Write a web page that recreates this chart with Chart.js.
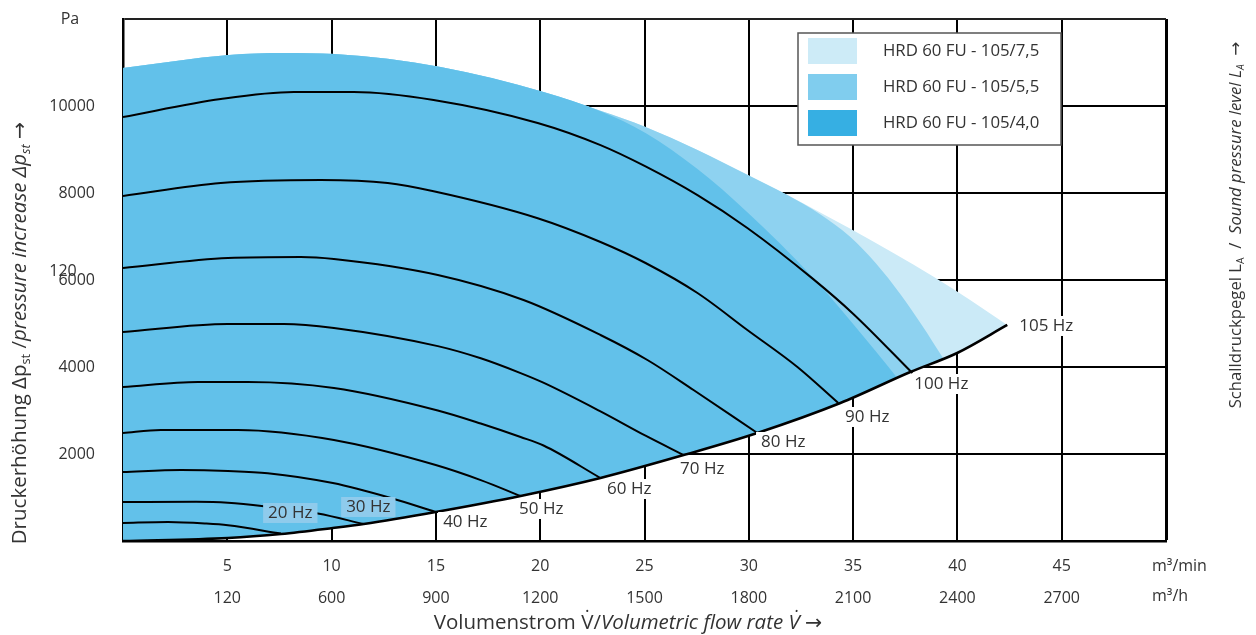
<!DOCTYPE html>
<html>
<head>
<meta charset="utf-8">
<script src="https://cdn.jsdelivr.net/npm/chart.js@4.4.0/dist/chart.umd.min.js"></script>
<style>
  html, body { margin: 0; padding: 0; background: #fff; }
  #wrap { width: 1256px; height: 635px; position: relative; }
</style>
</head>
<body>
<div id="wrap"><canvas id="chart"></canvas></div>
<script>
// axis ticks
const minTicks = [5, 10, 15, 20, 25, 30, 35, 40, 45];
const hourTicks = ['120', '600', '900', '1200', '1500', '1800', '2100', '2400', '2700'];

// [m3/min, Pa]
// limit curve, ends at the 105 Hz point
const limitCurve = [[0, 0], [5.03, 69], [7.57, 161], [10.06, 299], [11.54, 391], [14.99, 667], [19.06, 1035],
  [22.89, 1448], [27.06, 2000], [30.41, 2483], [34.39, 3172], [37.74, 3885], [39.99, 4322], [42.39, 4966]];

// upper edges of the three working ranges
const area40 = [[0, 10874], [5.08, 11173], [7.71, 11219], [10.15, 11196], [15.23, 10897], [20.16, 10322],
  [22.89, 9880], [25.05, 9380], [27.54, 8550], [29.93, 7560], [33.09, 6050], [35.01, 4980], [37.12, 3750]];
const area55 = [[0, 10874], [5.08, 11173], [7.71, 11219], [10.15, 11196], [15.23, 10897], [20.16, 10322],
  [22.89, 9890], [25.05, 9520], [27.54, 8990], [29.93, 8420], [31.85, 7954], [33.4, 7520], [34.87, 6990],
  [36.1, 6380], [37.26, 5680], [38.3, 4960], [39.32, 4200]];
const area75 = [[0, 10874], [5.08, 11173], [7.71, 11219], [10.15, 11196], [15.23, 10897], [20.16, 10322],
  [22.89, 9890], [25.05, 9520], [27.54, 8990], [29.93, 8420], [31.85, 7954], [33.4, 7560], [34.87, 7180],
  [36.93, 6620], [38.84, 6080], [40.61, 5540], [42.39, 4966]];

// fan curves per frequency
const hz20 = [[0, 414], [2.16, 437], [4, 400], [5.03, 360], [7.57, 170]];
const hz30 = [[0, 897], [3.5, 900], [5.03, 880], [6.75, 800], [9.34, 630], [11.54, 391]];
const hz40 = [[0, 1586], [2.78, 1630], [5.03, 1610], [6.94, 1560], [10.06, 1333], [12.84, 989], [14.99, 667]];
const hz50 = [[0, 2483], [1.82, 2552], [5.51, 2552], [10.11, 2322], [14.99, 1747], [17.15, 1400], [19.06, 1035]];
const hz60 = [[0, 3540], [3.59, 3655], [5.99, 3655], [10.11, 3517], [15.09, 3000], [17.15, 2700], [19.06, 2390],
  [20.16, 2195], [22.89, 1448]];
const hz70 = [[0, 4805], [5.03, 4989], [7.71, 4989], [10.11, 4897], [15.09, 4480], [17.15, 4200], [19.06, 3860],
  [20.15, 3640], [22.89, 2980], [25.05, 2420], [26.87, 1977]];
const hz80 = [[0, 6276], [5.03, 6506], [8.52, 6529], [10.11, 6483], [15.09, 6115], [19.2, 5540], [22.89, 4736],
  [25.14, 4161], [27.35, 3471], [30.41, 2483]];
const hz90 = [[0, 7931], [4.69, 8230], [9.48, 8299], [12.69, 8230], [14.89, 8040], [19.88, 7420], [22.89, 6874],
  [25.05, 6391], [27.54, 5701], [29.93, 4851], [32.33, 4000], [34.29, 3172]];
const hz100 = [[0, 9747], [4.69, 10161], [8.19, 10322], [11.06, 10322], [14.89, 10138], [19.88, 9609], [22.89, 9100],
  [25.05, 8610], [27.54, 7950], [29.93, 7196], [33.09, 6020], [35.01, 5220], [37.84, 3862]];

const hzLabels = ['20 Hz', '30 Hz', '40 Hz', '50 Hz', '60 Hz', '70 Hz', '80 Hz', '90 Hz', '100 Hz', '105 Hz'];
const hzLabelX = [8.02, 11.76, 16.41, 20.05, 24.27, 27.77, 31.65, 35.68, 39.23, 44.26];
const hzLabelY = [644, 782, 437, 736, 1195, 1655, 2276, 2851, 3609, 4943];

const seriesNames = ['HRD 60 FU - 105/7,5', 'HRD 60 FU - 105/5,5', 'HRD 60 FU - 105/4,0'];

const FONT = '"Open Sans", "DejaVu Sans", sans-serif';
const TXT = '#333';

function pts(arr) { return arr.map(p => ({x: p[0], y: p[1]})); }

function curve(arr, w) {
  return {data: pts(arr), borderColor: '#000', borderWidth: w || 2, pointRadius: 0,
    fill: false, cubicInterpolationMode: 'monotone', order: 0};
}
function area(arr, color, order) {
  // filled down to the limit curve (dataset 0)
  return {data: pts(arr), borderColor: 'rgba(0,0,0,0)', borderWidth: 1, pointRadius: 0,
    backgroundColor: color, fill: {target: 0}, cubicInterpolationMode: 'monotone', order: order};
}

const datasets = [curve(limitCurve, 2.6)];
[hz20, hz30, hz40, hz50, hz60, hz70, hz80, hz90, hz100].forEach(c => datasets.push(curve(c)));
datasets.push(area(area40, '#62C1EA', 1));
datasets.push(area(area55, '#8ED2F0', 2));
datasets.push(area(area75, '#CBEAF7', 3));

// mixed upright / italic / subscript text
function richText(ctx, parts, cx, cy, rot, size) {
  ctx.save();
  ctx.translate(cx, cy);
  ctx.rotate(rot);
  const fontOf = p => (p.it ? 'italic ' : '') + (p.sub ? size * 0.62 : size) + 'px ' + FONT;
  let w = 0;
  parts.forEach(p => { ctx.font = fontOf(p); w += ctx.measureText(p.t).width; });
  let x = -w / 2;
  ctx.textBaseline = 'middle';
  ctx.textAlign = 'left';
  ctx.fillStyle = TXT;
  parts.forEach(p => {
    ctx.font = fontOf(p);
    ctx.fillText(p.t, x, p.sub ? size * 0.3 : 0);
    x += ctx.measureText(p.t).width;
  });
  ctx.restore();
}

const extras = {
  id: 'extras',
  afterDraw(chart) {
    const ctx = chart.ctx, ca = chart.chartArea;
    const sx = chart.scales.x, sy = chart.scales.y;
    ctx.save();

    // frequency labels
    ctx.font = '17px ' + FONT;
    ctx.textAlign = 'center';
    ctx.textBaseline = 'middle';
    hzLabels.forEach((t, i) => {
      const x = sx.getPixelForValue(hzLabelX[i]), y = sy.getPixelForValue(hzLabelY[i]);
      const w = ctx.measureText(t).width;
      ctx.fillStyle = i < 2 ? '#8FCBEC' : '#fff';
      ctx.fillRect(x - w / 2 - 5, y - 10, w + 10, 20);
      ctx.fillStyle = TXT;
      ctx.fillText(t, x, y);
    });

    // legend box
    const lx = ca.right - 368, ly = ca.top + 14;
    ctx.fillStyle = '#fff';
    ctx.fillRect(lx, ly, 263, 112);
    ctx.strokeStyle = '#555';
    ctx.lineWidth = 1.5;
    ctx.strokeRect(lx, ly, 263, 112);
    const swatch = ['#CDEBF7', '#80CDEE', '#36AFE3'];
    ctx.textAlign = 'left';
    ctx.font = '16.8px ' + FONT;
    seriesNames.forEach((n, i) => {
      ctx.fillStyle = swatch[i];
      ctx.fillRect(lx + 10, ly + 5 + i * 36, 49, 26);
      ctx.fillStyle = TXT;
      ctx.fillText(n, lx + 85, ly + 18 + i * 36);
    });

    // units and stray labels
    ctx.font = '16px ' + FONT;
    ctx.fillText('m³/min', ca.right - 14, sx.top + 25);
    ctx.fillText('m³/h', ca.right - 14, sx.top + 55);
    ctx.textAlign = 'center';
    ctx.fillText('Pa', 70, ca.top);
    ctx.fillText('120', 63, sy.getPixelForValue(6000) - 9);

    // axis titles
    richText(ctx, [{t: 'Volumenstrom V\u0307/'}, {t: 'Volumetric flow rate V\u0307', it: true}, {t: ' \u2192'}],
      628, 623, 0, 20.5);
    richText(ctx, [{t: 'Druckerhöhung Δp'}, {t: 'st', sub: true}, {t: ' /'},
      {t: 'pressure increase Δp', it: true}, {t: 'st', it: true, sub: true}, {t: ' \u2192'}],
      20, 333, -Math.PI / 2, 20.5);
    richText(ctx, [{t: 'Schalldruckpegel L'}, {t: 'A', sub: true}, {t: '  /  '},
      {t: 'Sound pressure level L', it: true}, {t: 'A', it: true, sub: true}, {t: '  \u2192'}],
      1236, 225, -Math.PI / 2, 16.7);
    ctx.restore();
  }
};

new Chart(document.getElementById('chart'), {
  type: 'line',
  data: {datasets: datasets},
  options: {
    responsive: true,
    maintainAspectRatio: false,
    animation: false,
    events: [],
    layout: {padding: {top: 19, right: 90, left: 0, bottom: 0}},
    plugins: {legend: {display: false}, tooltip: {enabled: false}},
    scales: {
      x: {
        type: 'linear', min: 0, max: 50, z: 1,
        afterFit: s => { s.height = 94; s.paddingLeft = 0; s.paddingRight = 0; },
        border: {color: '#000', width: 2.5},
        grid: {color: '#000', lineWidth: c => (c.tick && c.tick.value === 50 ? 3 : 2), drawTicks: false},
        ticks: {
          stepSize: 5, maxRotation: 0, autoSkip: false, padding: 9, color: TXT,
          font: {family: FONT, size: 16, lineHeight: 2},
          callback: v => {
            const i = minTicks.indexOf(v);
            return i < 0 ? '' : [String(v), hourTicks[i]];
          }
        }
      },
      y: {
        min: 0, max: 12000, z: 1,
        afterFit: s => { s.width = 123; s.paddingTop = 0; s.paddingBottom = 0; },
        border: {color: '#000', width: 2.5},
        grid: {color: c => (c.tick && c.tick.value === 12000 ? '#222' : '#000'), lineWidth: 2, drawTicks: false},
        ticks: {
          stepSize: 2000, padding: 28, color: TXT,
          font: {family: FONT, size: 16},
          callback: v => (v === 0 || v === 12000 ? '' : v)
        }
      }
    }
  },
  plugins: [extras]
});
</script>
</body>
</html>
